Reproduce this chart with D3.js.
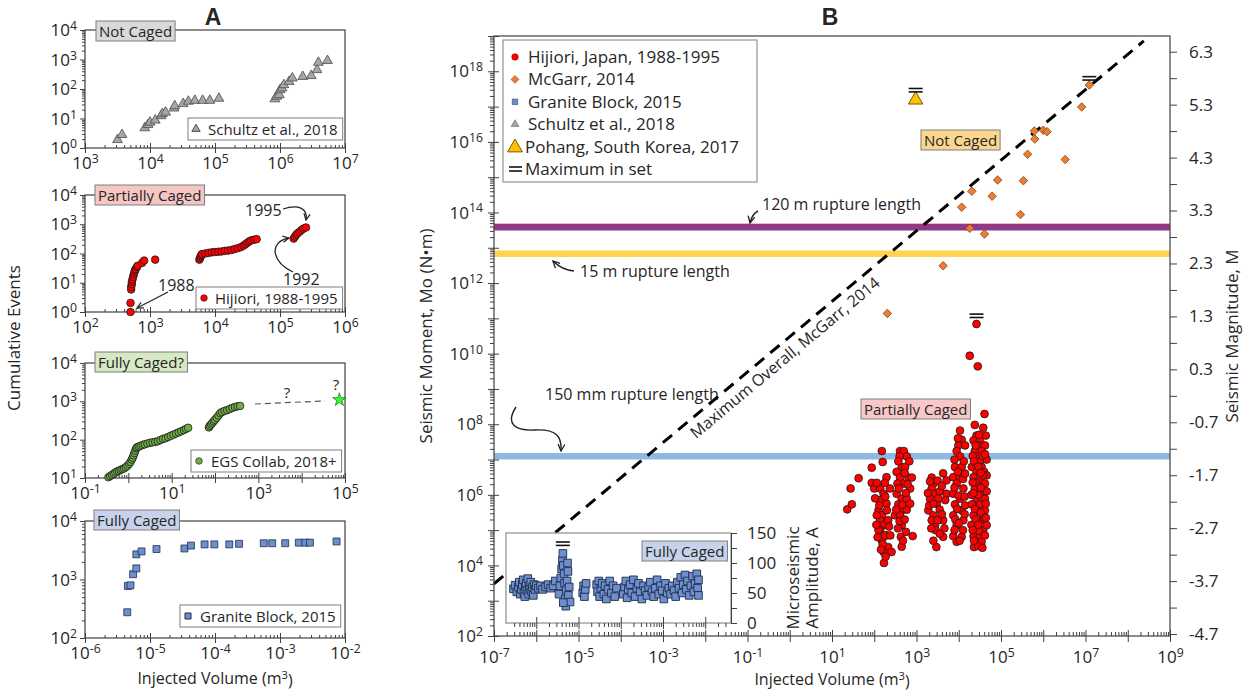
<!DOCTYPE html>
<html>
<head>
<meta charset="utf-8">
<script src="https://cdn.jsdelivr.net/npm/d3@7"></script>
<style>
  body { margin: 0; background: #fff; }
  text { font-family: "Open Sans", sans-serif; fill: #262626; }
</style>
</head>
<body>
<svg id="fig" width="1251" height="693"></svg>
<script>
// ---------- panel A data: [log10 injected volume, log10 cumulative events] ----------
const schultzA = [[3.50,0.28],[3.57,0.45],[3.92,0.68],[3.97,0.79],[4.00,0.87],[4.08,0.94],[4.17,1.09],[4.19,1.16],[4.24,1.21],
  [4.37,1.35],[4.38,1.43],[4.51,1.50],[4.59,1.58],[4.69,1.61],[4.81,1.61],[4.92,1.61],[5.06,1.68],
  [5.92,1.66],[5.95,1.75],[5.99,1.80],[6.00,1.97],[6.03,2.03],[6.06,2.14],[6.14,2.25],[6.19,2.37],[6.35,2.42],
  [6.48,2.45],[6.57,2.65],[6.59,2.90],[6.73,2.96]];
const hijioriA = [[2.70,0.00],[2.70,0.31],[2.71,0.77],[2.71,0.86],[2.72,0.95],[2.72,1.03],[2.73,1.11],[2.74,1.20],
  [2.75,1.28],[2.76,1.36],[2.77,1.43],[2.78,1.47],[2.80,1.54],[2.81,1.58],[2.88,1.68],[2.91,1.76],[3.08,1.79],
  [3.76,1.79],[3.77,1.85],[3.78,1.90],[3.79,1.95],[3.80,1.98],[3.85,2.00],[3.90,2.02],[3.95,2.04],[4.00,2.05],
  [4.05,2.06],[4.10,2.07],[4.15,2.09],[4.20,2.10],[4.25,2.12],[4.30,2.15],[4.35,2.18],[4.40,2.22],[4.44,2.27],
  [4.47,2.32],[4.50,2.37],[4.53,2.42],[4.56,2.45],[4.60,2.47],[4.64,2.49],
  [5.21,2.51],[5.23,2.58],[5.25,2.64],[5.27,2.69],[5.30,2.74],[5.33,2.80],[5.36,2.85],[5.40,2.89]];
const egsA = [[-0.46,1.02],[-0.42,1.05],[-0.38,1.08],[-0.34,1.11],[-0.30,1.14],[-0.26,1.17],[-0.22,1.19],[-0.18,1.21],
  [-0.14,1.23],[-0.10,1.25],[-0.06,1.28],[-0.02,1.32],[0.02,1.37],[0.05,1.42],[0.08,1.48],[0.10,1.53],[0.12,1.59],
  [0.14,1.65],[0.16,1.71],[0.18,1.77],[0.20,1.80],[0.24,1.82],[0.28,1.84],[0.33,1.86],[0.38,1.88],[0.44,1.90],
  [0.50,1.92],[0.56,1.93],[0.62,1.94],[0.68,1.96],[0.74,1.99],[0.80,2.02],[0.86,2.04],[0.92,2.07],[0.98,2.10],
  [1.04,2.13],[1.10,2.16],[1.16,2.19],[1.22,2.22],[1.28,2.25],[1.33,2.28],[1.38,2.31],
  [1.86,2.32],[1.88,2.36],[1.91,2.40],[1.94,2.44],[1.97,2.48],[2.00,2.52],[2.04,2.57],[2.08,2.63],[2.12,2.69],
  [2.16,2.72],[2.22,2.75],[2.28,2.77],[2.34,2.80],[2.40,2.83],[2.46,2.85],[2.52,2.87],[2.58,2.88]];
const egsGuess = [[2.92,2.93],[4.54,3.01]];
const egsStar = [4.87,3.04];
const graniteA = [[-5.35,2.44],[-5.34,2.89],[-5.30,2.90],[-5.26,3.09],[-5.21,3.19],[-5.21,3.43],[-5.13,3.48],
  [-4.90,3.52],[-4.47,3.53],[-4.37,3.58],[-4.16,3.60],[-4.01,3.60],[-3.78,3.60],[-3.63,3.61],[-3.25,3.62],
  [-3.12,3.62],[-2.92,3.62],[-2.71,3.63],[-2.61,3.63],[-2.54,3.63],[-2.13,3.65]];

// ---------- panel B data: [log10 injected volume, log10 seismic moment] ----------
const hijioriB = [
  [1.36,5.59],[1.47,5.73],[1.44,6.18],[1.63,6.47],[1.94,6.77],[2.18,7.24],[2.20,6.93],[1.94,6.34],[2.00,6.18],
  [2.14,6.18],[2.22,6.03],[2.14,5.85],[2.29,5.75],[2.10,5.56],[2.18,5.42],[2.14,5.28],[2.22,5.14],[2.14,5.00],
  [2.29,4.85],[2.18,4.71],[2.33,4.52],[2.22,4.38],[2.41,4.38],[2.23,4.07],[2.29,6.50],[2.37,6.18],[2.06,6.34],
  [2.25,6.34],[2.10,5.00],[2.33,5.28],[2.06,5.42],[2.30,5.56],[2.20,4.60],
  [2.02,5.90],[2.26,5.95],[2.12,5.70],[2.35,5.10],[2.05,5.15],[2.26,4.85],[2.16,4.45],[2.38,4.85],[2.08,4.80],[2.27,4.25],
  [2.61,7.24],[2.70,7.24],[2.77,7.09],[2.60,7.09],[2.65,6.79],[2.73,6.79],[2.53,6.65],[2.61,6.49],[2.81,6.49],
  [2.89,6.49],[2.69,6.32],[2.85,6.18],[2.53,6.03],[2.65,5.89],[2.77,5.89],[2.57,5.73],[2.69,5.58],[2.77,5.58],
  [2.49,5.42],[2.61,5.42],[2.65,5.14],[2.63,4.81],[2.65,4.53],[2.91,4.83],[2.55,6.32],[2.75,6.05],[2.85,5.75],[2.60,5.25],
  [2.57,6.95],[2.83,6.95],[2.72,6.62],[2.58,6.18],[2.79,6.30],[2.66,5.72],[2.52,5.58],[2.72,5.30],[2.56,5.05],[2.75,4.95],[2.68,4.70],
  [3.36,6.49],[3.40,6.32],[3.36,6.18],[3.44,6.03],[3.32,5.89],[3.48,5.75],[3.28,5.56],[3.40,5.42],[3.55,5.58],
  [3.63,5.28],[3.44,5.14],[3.36,5.28],[3.63,6.61],[3.71,6.41],[3.71,6.03],[3.47,4.52],[3.63,4.81],[3.68,5.85],
  [3.50,5.28],[3.30,5.70],[3.55,6.10],[3.45,5.00],
  [3.32,6.38],[3.50,6.40],[3.60,6.25],[3.27,6.05],[3.52,5.90],[3.40,5.75],[3.60,5.45],[3.35,5.05],[3.55,4.90],[3.40,4.70],[3.66,5.05],
  [4.03,7.82],[4.07,7.56],[3.99,7.40],[4.15,7.40],[3.95,7.24],[4.03,7.09],[3.91,6.79],[4.07,6.79],[3.87,6.50],
  [4.03,6.50],[3.95,6.32],[4.11,6.18],[3.87,6.03],[4.03,5.89],[3.91,5.73],[4.07,5.56],[3.87,5.42],[4.11,5.28],
  [3.95,5.14],[3.87,4.83],[3.95,4.67],[4.07,4.81],[4.00,5.98],[4.10,6.45],[3.92,5.30],[4.15,5.70],
  [3.90,7.00],[4.12,6.95],[3.98,6.65],[4.15,6.60],[3.90,6.20],[4.14,5.95],[3.96,5.60],[4.14,5.45],[4.00,5.20],
  [3.90,5.00],[4.10,5.00],[4.02,4.70],[3.98,7.60],
  [4.38,7.98],[4.42,7.68],[4.64,7.68],[4.35,7.54],[4.50,7.54],[4.46,7.40],[4.62,7.40],[4.38,7.24],[4.54,7.24],
  [4.42,7.09],[4.50,6.93],[4.31,6.79],[4.54,6.79],[4.42,6.65],[4.60,6.65],[4.35,6.50],[4.50,6.41],[4.62,6.32],
  [4.38,6.18],[4.54,6.03],[4.42,5.89],[4.62,5.89],[4.31,5.73],[4.50,5.73],[4.42,5.56],[4.62,5.56],[4.35,5.42],
  [4.54,5.28],[4.42,5.14],[4.58,5.00],[4.35,4.83],[4.50,4.83],[4.42,4.67],[4.36,4.52],[4.54,4.67],[4.66,5.14],
  [4.66,6.10],[4.66,7.00],[4.30,6.00],[4.46,6.00],[4.60,5.35],[4.30,5.15],[4.48,4.98],[4.40,6.35],[4.56,7.10],[4.66,6.55],
  [4.33,7.10],[4.48,7.70],[4.58,7.90],[4.36,6.95],[4.62,7.15],[4.46,6.80],[4.58,6.55],[4.33,6.35],[4.52,6.20],
  [4.35,6.05],[4.64,5.75],[4.38,5.60],[4.52,5.50],[4.40,5.30],[4.64,5.35],[4.46,5.15],[4.33,5.00],[4.62,4.85],
  [4.46,4.55],[4.56,4.50],[4.36,4.70],[4.52,6.62],[4.40,7.40],
  [4.26,9.94],[4.45,9.64],[4.42,10.84],[4.61,8.29]];
const mcgarrB = [[7.09,17.61],[6.91,16.99],[5.79,16.31],[6.00,16.33],[6.09,16.29],[5.80,16.08],[5.63,15.65],
  [6.52,15.50],[4.92,14.92],[5.53,14.90],[4.31,14.60],[4.79,14.46],[4.07,14.15],[5.46,13.94],[4.26,13.55],
  [4.61,13.39],[3.63,12.49],[2.31,11.14]];
const pohangB = [2.98,17.19];
const maxInSetB = [[4.42,10.84],[7.09,17.61],[2.98,17.19]];
const mcgarrMaxLine = [[-7,3.48],[8.38,18.86]];
const ruptureLabels = ["120 m rupture length","15 m rupture length","150 mm rupture length"];
const ruptureLogMo = [13.58,12.83,7.09];
const ruptureColors = ["#8e3a8c","#ffd34d","#8db9e2"];
// granite block inset: [log10 injected volume, microseismic amplitude A]
const graniteB = [[-6.54,57],[-6.50,63],[-6.46,52],[-6.42,60],[-6.40,68],[-6.38,48],[-6.35,56],[-6.33,64],[-6.31,72],
  [-6.29,50],[-6.27,44],[-6.26,60],[-6.24,66],[-6.22,54],[-6.20,74],[-6.18,48],[-6.17,62],[-6.15,56],[-6.13,68],
  [-6.11,52],[-6.09,60],[-6.07,46],[-6.05,64],[-6.03,56],[-6.00,62],
  [-5.95,58],[-5.90,62],[-5.85,56],[-5.78,60],[-5.72,64],[-5.66,58],[-5.60,62],[-5.55,70],
  [-5.46,48],[-5.44,62],[-5.42,75],[-5.40,90],[-5.38,104],[-5.37,116],[-5.36,96],[-5.34,82],[-5.33,66],[-5.31,40],
  [-5.30,28],[-5.29,55],[-5.27,70],[-5.25,86],[-5.24,46],[-5.22,60],[-5.20,35],[-5.36,34],[-5.26,100],
  [-4.90,50],[-4.88,62],[-4.86,44],[-4.84,56],[-4.82,66],
  [-4.57,64],[-4.55,52],[-4.52,70],[-4.50,44],[-4.47,58],[-4.44,66],[-4.40,48],[-4.37,62],[-4.34,40],[-4.30,56],
  [-4.26,70],[-4.22,50],[-4.18,62],[-4.14,44],[-4.10,58],
  [-3.94,48],[-3.91,60],[-3.88,70],[-3.85,42],[-3.82,56],[-3.78,64],[-3.74,50],[-3.70,72],[-3.66,44],[-3.62,58],
  [-3.58,66],[-3.54,52],[-3.50,40],[-3.46,62],[-3.42,54],
  [-3.38,46],[-3.34,60],[-3.30,68],[-3.26,52],[-3.22,44],[-3.18,58],[-3.14,72],[-3.10,48],[-3.06,62],[-3.02,54],
  [-2.98,40],[-2.94,66],[-2.90,50],[-2.86,58],
  [-2.82,48],[-2.78,62],[-2.74,54],[-2.70,44],[-2.66,68],[-2.62,58],[-2.58,76],[-2.55,50],[-2.52,64],[-2.48,80],
  [-2.45,56],[-2.42,70],[-2.38,46],[-2.34,62],[-2.30,78],[-2.27,52],[-2.24,66],[-2.20,82],[-2.18,58],[-2.16,72],[-2.16,46]];
const graniteMaxB = [-5.37,116];

// tick labels
const magTicks = [6.3,5.3,4.3,3.3,2.3,1.3,0.3,-0.7,-1.7,-2.7,-3.7,-4.7];
const insetTicks = [0,50,100,150];
const legendB = ["Hijiori, Japan, 1988-1995","McGarr, 2014","Granite Block, 2015","Schultz et al., 2018",
  "Pohang, South Korea, 2017","Maximum in set"];

const svg = d3.select("#fig");
const p10 = e => Math.pow(10, e);

const defs = svg.append("defs");
defs.append("marker").attr("id", "ah").attr("viewBox", "0 0 10 10")
  .attr("refX", 9).attr("refY", 5).attr("markerWidth", 6).attr("markerHeight", 6)
  .attr("orient", "auto")
  .append("path").attr("d", "M1,1 L9,5 L1,9").attr("fill", "none").attr("stroke", "#222").attr("stroke-width", 1.6);

function powText(sel, e) {
  sel.append("tspan").text("10");
  sel.append("tspan").attr("dy", "-0.5em").attr("font-size", "72%").text(e);
}

const minorVals = (lo, hi) => d3.range(lo, hi).flatMap(e => d3.range(2, 10).map(k => k * p10(e)));
const majorVals = (lo, hi) => d3.range(lo, hi + 1).map(p10);

// log axes with decade labels
function logAxes(g, x, y, xe, ye, xlab, ylab, o) {
  const yb = y.range()[0], xl = x.range()[0];
  g.append("g").attr("color", "#404040").attr("transform", `translate(0,${yb})`)
    .call(d3.axisTop(x).tickValues(minorVals(xe[0], xe[1])).tickSize(o.minor).tickFormat(""))
    .call(s => s.select(".domain").remove());
  const gx = g.append("g").attr("color", "#404040").attr("transform", `translate(0,${yb})`)
    .call(d3.axisBottom(x).tickValues(majorVals(xe[0], xe[1])).tickSize(o.major).tickFormat(""));
  gx.select(".domain").remove();
  gx.selectAll(".tick line").attr("y1", -o.major);
  gx.selectAll(".tick").filter(d => xlab.includes(Math.round(Math.log10(d))))
    .append("text").attr("y", o.xly).attr("text-anchor", "middle").attr("font-size", o.fs)
    .each(function (d) { powText(d3.select(this), Math.round(Math.log10(d))); });

  g.append("g").attr("color", "#404040").attr("transform", `translate(${xl},0)`)
    .call(d3.axisLeft(y).tickValues(minorVals(ye[0], ye[1])).tickSize(o.minor).tickFormat(""))
    .call(s => s.select(".domain").remove());
  const gy = g.append("g").attr("color", "#404040").attr("transform", `translate(${xl},0)`)
    .call(d3.axisLeft(y).tickValues(majorVals(ye[0], ye[1])).tickSize(o.major).tickFormat(""));
  gy.select(".domain").remove();
  gy.selectAll(".tick line").attr("x1", o.majorIn);
  gy.selectAll(".tick").filter(d => ylab.includes(Math.round(Math.log10(d))))
    .append("text").attr("x", -o.ylx).attr("y", o.fs * 0.33).attr("text-anchor", "end").attr("font-size", o.fs)
    .each(function (d) { powText(d3.select(this), Math.round(Math.log10(d))); });
}

function frame(g, x, y) {
  const [x0, x1] = x.range(), [y0, y1] = y.range();
  g.append("rect").attr("x", x0).attr("y", y1).attr("width", x1 - x0).attr("height", y0 - y1)
    .attr("fill", "none").attr("stroke", "#404040").attr("stroke-width", 1.2);
}

function tag(g, x, yb, label, fill, fs) {
  const t = g.append("text").attr("x", x).attr("y", yb).attr("font-size", fs).text(label);
  const b = t.node().getBBox();
  g.insert("rect", () => t.node()).attr("x", b.x - 3).attr("y", b.y).attr("width", b.width + 6)
    .attr("height", b.height).attr("fill", fill).attr("stroke", "#7f7f7f").attr("stroke-width", 1);
}

const sym = (type, size) => d3.symbol().type(type).size(size)();
const triPath = sym(d3.symbolTriangle, 42);
const sqPath = sym(d3.symbolSquare, 48);

// ---------------- Panel A ----------------
const AL = 85, AR = 345;
const panelsA = [
  { top: 30, bottom: 148, xe: [3, 7], ye: [0, 4], xlab: [3, 4, 5, 6, 7], ylab: [0, 1, 2, 3, 4] },
  { top: 195, bottom: 312, xe: [2, 6], ye: [0, 4], xlab: [2, 3, 4, 5, 6], ylab: [0, 1, 2, 3, 4] },
  { top: 363, bottom: 478, xe: [-1, 5], ye: [1, 4], xlab: [-1, 1, 3, 5], ylab: [1, 2, 3, 4] },
  { top: 521, bottom: 638, xe: [-6, -2], ye: [2, 4], xlab: [-6, -5, -4, -3, -2], ylab: [2, 3, 4] }
];
panelsA.forEach(p => {
  p.x = d3.scaleLog().domain([p10(p.xe[0]), p10(p.xe[1])]).range([AL, AR]);
  p.y = d3.scaleLog().domain([p10(p.ye[0]), p10(p.ye[1])]).range([p.bottom, p.top]);
  p.g = svg.append("g");
  frame(p.g, p.x, p.y);
  logAxes(p.g, p.x, p.y, p.xe, p.ye, p.xlab, p.ylab, { minor: 3, major: 5, majorIn: 0, xly: 21, ylx: 8, fs: 17 });
});
const pos = (p, d) => `translate(${p.x(p10(d[0]))},${p.y(p10(d[1]))})`;

svg.append("text").attr("x", 213).attr("y", 25).attr("text-anchor", "middle")
  .attr("font-size", 23).attr("font-weight", "bold").style("font-family", "Liberation Sans, Arial").text("A");

// A1 Schultz
{
  const p = panelsA[0];
  p.g.selectAll(".s").data(schultzA).join("path").attr("transform", d => pos(p, d)).attr("d", triPath)
    .attr("fill", "#a6a6a6").attr("stroke", "#4d4d4d").attr("stroke-width", 0.8);
  tag(p.g, 99, 37, "Not Caged", "#d9d9d9", 15);
}
// A2 Hijiori
{
  const p = panelsA[1];
  p.g.selectAll(".h").data(hijioriA).join("circle").attr("transform", d => pos(p, d)).attr("r", 3.8)
    .attr("fill", "#ff0000").attr("stroke", "#1a1a1a").attr("stroke-width", 0.8);
  tag(p.g, 98, 201, "Partially Caged", "#f6c6c4", 15);
  p.g.append("text").attr("x", 245).attr("y", 216).attr("font-size", 16).text("1995");
  p.g.append("text").attr("x", 283).attr("y", 285).attr("font-size", 16).text("1992");
  p.g.append("text").attr("x", 158).attr("y", 291).attr("font-size", 16).text("1988");
  const arr = [["M283,209 C298,204 308,208 306,220"], ["M293,272 C272,262 268,242 289,238"], ["M168,292 L137,308"]];
  p.g.selectAll(".ar").data(arr).join("path").attr("d", d => d[0]).attr("fill", "none")
    .attr("stroke", "#222").attr("stroke-width", 1.3).attr("marker-end", "url(#ah)");
}
// A3 EGS Collab
{
  const p = panelsA[2];
  p.g.append("path").datum(egsGuess).attr("d", d3.line().x(d => p.x(p10(d[0]))).y(d => p.y(p10(d[1]))))
    .attr("stroke", "#595959").attr("stroke-width", 1.2).attr("stroke-dasharray", "6,4").attr("fill", "none");
  p.g.selectAll(".e").data(egsA).join("circle").attr("transform", d => pos(p, d)).attr("r", 3.8)
    .attr("fill", "#6fae47").attr("stroke", "#1a1a1a").attr("stroke-width", 0.8);
  p.g.append("path").attr("transform", pos(p, egsStar)).attr("d", sym(d3.symbolStar, 55))
    .attr("fill", "#33ff33").attr("stroke", "#1a6b1a").attr("stroke-width", 0.7);
  p.g.append("text").attr("x", 287).attr("y", 398).attr("font-size", 15).attr("text-anchor", "middle").text("?");
  p.g.append("text").attr("x", 336).attr("y", 390).attr("font-size", 15).attr("text-anchor", "middle").text("?");
  tag(p.g, 98, 368, "Fully Caged?", "#d6e9c4", 15);
}
// A4 Granite Block
{
  const p = panelsA[3];
  p.g.selectAll(".q").data(graniteA).join("path").attr("transform", d => pos(p, d)).attr("d", sqPath)
    .attr("fill", "#6d8fcd").attr("stroke", "#1f2d4a").attr("stroke-width", 0.8);
  tag(p.g, 97, 526, "Fully Caged", "#c6d3ea", 15);
}
// A legends
const legA = [
  { p: 0, label: "Schultz et al., 2018", mx: 196, tx: 208, yb: 135, kind: "tri" },
  { p: 1, label: "Hijiori, 1988-1995", mx: 204, tx: 215, yb: 304, kind: "red" },
  { p: 2, label: "EGS Collab, 2018+", mx: 199, tx: 211, yb: 467, kind: "green" },
  { p: 3, label: "Granite Block, 2015", mx: 188, tx: 200, yb: 622, kind: "sq" }
];
legA.forEach(l => {
  const g = panelsA[l.p].g.append("g");
  const t = g.append("text").attr("x", l.tx).attr("y", l.yb).attr("font-size", 15).text(l.label);
  const b = t.node().getBBox();
  g.insert("rect", () => t.node()).attr("x", l.mx - 8).attr("y", b.y - 1).attr("width", b.x + b.width + 5 - (l.mx - 8))
    .attr("height", b.height + 2).attr("fill", "#fff").attr("stroke", "#7f7f7f");
  const cy = b.y + b.height / 2;
  if (l.kind === "tri") g.append("path").attr("transform", `translate(${l.mx},${cy})`).attr("d", sym(d3.symbolTriangle, 30)).attr("fill", "#a6a6a6").attr("stroke", "#4d4d4d");
  if (l.kind === "red") g.append("circle").attr("cx", l.mx).attr("cy", cy).attr("r", 3.3).attr("fill", "#ff0000").attr("stroke", "#1a1a1a").attr("stroke-width", 0.6);
  if (l.kind === "green") g.append("circle").attr("cx", l.mx).attr("cy", cy).attr("r", 3.3).attr("fill", "#6fae47").attr("stroke", "#1a1a1a").attr("stroke-width", 0.6);
  if (l.kind === "sq") g.append("path").attr("transform", `translate(${l.mx},${cy})`).attr("d", sym(d3.symbolSquare, 36)).attr("fill", "#6d8fcd").attr("stroke", "#1f2d4a");
});
svg.append("text").attr("transform", "translate(20,338) rotate(-90)").attr("text-anchor", "middle")
  .attr("font-size", 17).text("Cumulative Events");
svg.append("text").attr("x", 215).attr("y", 684).attr("text-anchor", "middle").attr("font-size", 16)
  .call(t => { t.append("tspan").text("Injected Volume (m"); t.append("tspan").attr("dy", "-0.45em").attr("font-size", "70%").text("3"); t.append("tspan").attr("dy", "0.45em").text(")"); });

// ---------------- Panel B ----------------
const BL = 494, BR = 1170, BT = 36, BB = 636;
const xB = d3.scaleLog().domain([p10(-7), p10(9)]).range([BL, BR]);
const yB = d3.scaleLog().domain([p10(2), p10(19)]).range([BB, BT]);
const mB = d3.scaleLinear().domain([2 / 3 * 2 - 6.07, 2 / 3 * 19 - 6.07]).range([BB, BT]);
const gB = svg.append("g");
const posB = d => `translate(${xB(p10(d[0]))},${yB(p10(d[1]))})`;

svg.append("text").attr("x", 830).attr("y", 25).attr("text-anchor", "middle")
  .attr("font-size", 23).attr("font-weight", "bold").style("font-family", "Liberation Sans, Arial").text("B");

// rupture length bands
gB.selectAll(".band").data(ruptureLogMo).join("line")
  .attr("x1", BL).attr("x2", BR).attr("y1", d => yB(p10(d))).attr("y2", d => yB(p10(d)))
  .attr("stroke", (d, i) => ruptureColors[i]).attr("stroke-width", 6.5);
gB.append("line").attr("x1", BL).attr("x2", BR).attr("y1", yB(p10(ruptureLogMo[0])) - 3.2).attr("y2", yB(p10(ruptureLogMo[0])) - 3.2)
  .attr("stroke", "#c0304a").attr("stroke-width", 0.8);
const rupPos = [[762, 210], [580, 277], [545, 400]];
gB.selectAll(".rt").data(ruptureLabels).join("text").attr("x", (d, i) => rupPos[i][0]).attr("y", (d, i) => rupPos[i][1])
  .attr("font-size", 16).text(d => d);
const rupArrows = ["M758,211 Q752,214 750,223", "M574,271 Q562,270 553,261", "M516,407 C505,424 515,431 535,430 C556,429 562,436 561,451"];
gB.selectAll(".ra").data(rupArrows).join("path").attr("d", d => d).attr("fill", "none")
  .attr("stroke", "#222").attr("stroke-width", 1.4).attr("marker-end", "url(#ah)");

// McGarr maximum line
gB.append("path").datum(mcgarrMaxLine).attr("d", d3.line().x(d => xB(p10(d[0]))).y(d => yB(p10(d[1]))))
  .attr("stroke", "#000").attr("stroke-width", 3).attr("stroke-dasharray", "12,8").attr("fill", "none");
{
  const a = [xB(p10(mcgarrMaxLine[0][0])), yB(p10(mcgarrMaxLine[0][1]))];
  const b = [xB(p10(mcgarrMaxLine[1][0])), yB(p10(mcgarrMaxLine[1][1]))];
  const dx = b[0] - a[0], dy = b[1] - a[1], len = Math.hypot(dx, dy);
  const f = 0.435, off = 13;
  const cx = a[0] + dx * f + (-dy / len) * off, cy = a[1] + dy * f + (dx / len) * off;
  gB.append("text").attr("transform", `translate(${cx},${cy}) rotate(${Math.atan2(dy, dx) * 180 / Math.PI})`)
    .attr("text-anchor", "middle").attr("dy", "0.35em").attr("font-size", 16).text("Maximum Overall, McGarr, 2014");
}

// data points
gB.selectAll(".mc").data(mcgarrB).join("rect").attr("transform", d => posB(d) + " rotate(45)")
  .attr("x", -3).attr("y", -3).attr("width", 6).attr("height", 6)
  .attr("fill", "#ed7d31").attr("stroke", "#7a3c10").attr("stroke-width", 0.7);
gB.selectAll(".hb").data(hijioriB).join("circle").attr("transform", posB).attr("r", 3.9)
  .attr("fill", "#ff0000").attr("stroke", "#1a1a1a").attr("stroke-width", 0.8);
gB.append("path").attr("transform", posB(pohangB)).attr("d", sym(d3.symbolTriangle, 90))
  .attr("fill", "#ffc000").attr("stroke", "#7a5a00").attr("stroke-width", 1);
const maxOff = [-6.5, -5, -8];
maxInSetB.forEach((d, i) => {
  [0, 3.4].forEach(s => gB.append("line").attr("transform", posB(d))
    .attr("x1", -7).attr("x2", 7).attr("y1", maxOff[i] - s).attr("y2", maxOff[i] - s)
    .attr("stroke", "#111").attr("stroke-width", 1.6));
});
tag(gB, 924, 146, "Not Caged", "#fbd68e", 15);
tag(gB, 864, 415, "Partially Caged", "#f8c8c8", 15);

// axes B
frame(gB, xB, yB);
logAxes(gB, xB, yB, [-7, 9], [2, 19], [-7, -5, -3, -1, 1, 3, 5, 7, 9], [2, 4, 6, 8, 10, 12, 14, 16, 18],
  { minor: 4, major: 6, majorIn: 5, xly: 27, ylx: 11, fs: 17 });
gB.append("g").attr("color", "#404040").attr("transform", `translate(${BR},0)`)
  .call(d3.axisRight(mB).tickValues(d3.range(0, 23).map(i => +(-4.7 + 0.5 * i).toFixed(1))).tickSize(7).tickPadding(12)
    .tickFormat(d => magTicks.includes(d) ? d.toFixed(1) : ""))
  .call(s => s.select(".domain").remove())
  .call(s => s.selectAll("text").attr("font-size", 17));
gB.append("text").attr("transform", `translate(432,${(BT + BB) / 2}) rotate(-90)`).attr("text-anchor", "middle")
  .attr("font-size", 17).text("Seismic Moment, Mo (N\u2022m)");
gB.append("text").attr("transform", `translate(1238,${(BT + BB) / 2}) rotate(-90)`).attr("text-anchor", "middle")
  .attr("font-size", 17).text("Seismic Magnitude, M");
gB.append("text").attr("x", 832).attr("y", 685).attr("text-anchor", "middle").attr("font-size", 16)
  .call(t => { t.append("tspan").text("Injected Volume (m"); t.append("tspan").attr("dy", "-0.45em").attr("font-size", "70%").text("3"); t.append("tspan").attr("dy", "0.45em").text(")"); });

// legend B
{
  const g = gB.append("g");
  g.append("rect").attr("x", 503).attr("y", 40).attr("width", 254).attr("height", 142)
    .attr("fill", "#fff").attr("stroke", "#7f7f7f").attr("stroke-width", 1);
  const ly = i => 57 + i * 22.4;
  g.selectAll(".lt").data(legendB).join("text").attr("x", (d, i) => i === 4 || i === 5 ? 525 : 528)
    .attr("y", (d, i) => ly(i) + 6).attr("font-size", 17).text(d => d);
  g.append("circle").attr("cx", 515).attr("cy", ly(0)).attr("r", 3.3).attr("fill", "#ff0000").attr("stroke", "#7a0000").attr("stroke-width", 0.5);
  g.append("rect").attr("transform", `translate(515,${ly(1)}) rotate(45)`).attr("x", -2.8).attr("y", -2.8).attr("width", 5.6).attr("height", 5.6)
    .attr("fill", "#ed7d31").attr("stroke", "#7a3c10").attr("stroke-width", 0.5);
  g.append("path").attr("transform", `translate(515,${ly(2)})`).attr("d", sym(d3.symbolSquare, 30)).attr("fill", "#6d8fcd").attr("stroke", "#1f2d4a").attr("stroke-width", 0.5);
  g.append("path").attr("transform", `translate(515,${ly(3)})`).attr("d", sym(d3.symbolTriangle, 26)).attr("fill", "#a6a6a6").attr("stroke", "#4d4d4d").attr("stroke-width", 0.5);
  g.append("path").attr("transform", `translate(515,${ly(4) + 1})`).attr("d", sym(d3.symbolTriangle, 95)).attr("fill", "#ffc000").attr("stroke", "#7a5a00");
  [-2, 2].forEach(s => g.append("line").attr("x1", 509).attr("x2", 522).attr("y1", ly(5) + s).attr("y2", ly(5) + s).attr("stroke", "#111").attr("stroke-width", 1.6));
}

// inset: granite block amplitudes
{
  const iL = 506, iR = 731, iT = 533, iB = 623;
  const yI = d3.scaleLinear().domain([0, 150]).range([iB, iT]);
  const g = gB.append("g");
  g.append("rect").attr("x", iL).attr("y", iT).attr("width", iR - iL).attr("height", iB - iT)
    .attr("fill", "#fff").attr("stroke", "#8c8c8c").attr("stroke-width", 1.2);
  const inRange = v => xB(v) > iL + 1 && xB(v) < iR - 1;
  g.append("g").attr("color", "#404040").attr("transform", `translate(0,${iB})`)
    .call(d3.axisBottom(xB).tickValues(minorVals(-7, -1).filter(inRange)).tickSize(4).tickFormat(""))
    .call(s => s.select(".domain").remove());
  g.append("g").attr("color", "#404040").attr("transform", `translate(0,${iB})`)
    .call(d3.axisBottom(xB).tickValues(majorVals(-6, -2)).tickSize(6).tickFormat(""))
    .call(s => s.select(".domain").remove())
    .call(s => s.selectAll(".tick line").attr("y1", -6));
  g.append("g").attr("color", "#404040").attr("transform", `translate(${iR},0)`)
    .call(d3.axisRight(yI).tickValues(d3.range(0, 151, 25)).tickSize(6).tickPadding(10)
      .tickFormat(d => insetTicks.includes(d) ? d : ""))
    .call(s => s.select(".domain").attr("stroke", "#404040"))
    .call(s => s.selectAll("text").attr("font-size", 17));
  g.selectAll(".gi").data(graniteB).join("path")
    .attr("transform", d => `translate(${xB(p10(d[0]))},${yI(d[1])})`).attr("d", sym(d3.symbolSquare, 58))
    .attr("fill", "#6d8fcd").attr("stroke", "#1f2d4a").attr("stroke-width", 0.9);
  [0, 3.4].forEach(s => g.append("line").attr("transform", `translate(${xB(p10(graniteMaxB[0]))},${yI(graniteMaxB[1])})`)
    .attr("x1", -7).attr("x2", 7).attr("y1", -8 - s).attr("y2", -8 - s).attr("stroke", "#111").attr("stroke-width", 1.6));
  tag(g, 645, 557, "Fully Caged", "#c6d3ea", 15);
  g.append("text").attr("transform", `translate(799,578) rotate(-90)`).attr("text-anchor", "middle").attr("font-size", 17).text("Microseismic");
  g.append("text").attr("transform", `translate(818,578) rotate(-90)`).attr("text-anchor", "middle").attr("font-size", 17).text("Amplitude, A");
}
</script>
</body>
</html>
